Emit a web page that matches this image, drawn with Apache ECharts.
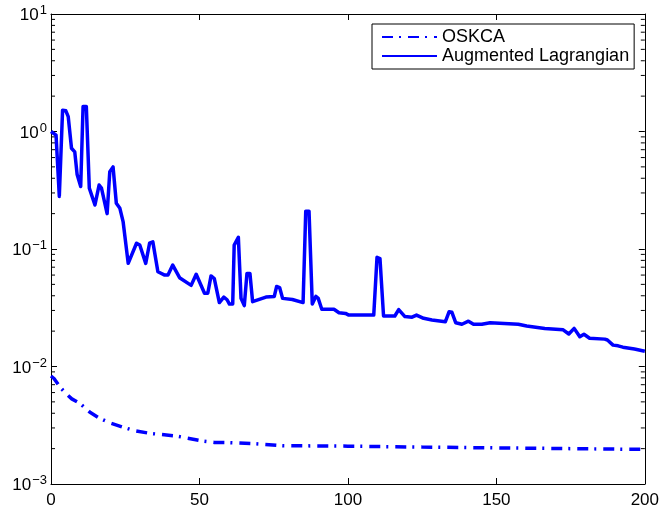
<!DOCTYPE html>
<html>
<head>
<meta charset="utf-8">
<script src="https://cdn.jsdelivr.net/npm/echarts@6/dist/echarts.min.js"></script>
<style>
html,body{margin:0;padding:0;background:#fff;}
#chart{width:662px;height:514px;}
</style>
</head>
<body>
<div id="chart"></div>
<script>
// ---- data ----
const seriesNames = ['OSKCA', 'Augmented Lagrangian'];
const xTicks = [0, 50, 100, 150, 200];
const yDecades = [0.001, 0.01, 0.1, 1, 10];

const oskca = [
  [0,0.0083],[1,0.0079],[3,0.0067],[5,0.0059],[7,0.0053],[9.7,0.00486],[13,0.0041],
  [16.4,0.00362],[20,0.0033],[24.3,0.00304],[28,0.00285],[33.2,0.0027],[42.2,0.00256],
  [51.1,0.00232],[55,0.00226],[60,0.00225],[69,0.0022],[78,0.00212],[88,0.00211],
  [100,0.0021],[125,0.00206],[150,0.00203],[175,0.002],[200,0.00197]
];

const augLag = [
  [0,1.0],[1.7,0.93],[2.8,0.28],[3.9,1.52],[5,1.5],[5.8,1.34],[6.9,0.72],[8,0.67],[8.8,0.43],
  [10,0.34],[10.8,1.63],[11.9,1.63],[12.9,0.33],[14.8,0.237],[16.2,0.35],[17,0.33],[18.9,0.20],
  [19.8,0.455],[20.9,0.50],[22,0.245],[23.2,0.222],[24.3,0.17],[26,0.0755],[28.8,0.112],
  [29.9,0.108],[31.9,0.0755],[33.2,0.112],[34.3,0.115],[36,0.064],[38.3,0.060],[39.4,0.060],
  [41,0.073],[43.3,0.057],[47.2,0.049],[48.9,0.061],[51.7,0.042],[52.8,0.042],[53.9,0.059],
  [55,0.056],[56.7,0.035],[58.2,0.039],[59.3,0.037],[60.1,0.034],[61.2,0.034],[61.7,0.108],
  [63.1,0.126],[64,0.038],[65.1,0.033],[66,0.062],[67,0.062],[67.9,0.0356],[72.4,0.039],
  [75.2,0.0395],[76,0.048],[77,0.047],[78,0.038],[81.3,0.0372],[84.9,0.035],[85.8,0.21],
  [86.9,0.21],[88,0.034],[89.2,0.0395],[90,0.038],[91.2,0.0307],[95.3,0.0307],[97,0.0287],
  [99.2,0.0283],[100.3,0.0274],[108.7,0.0274],[109.8,0.085],[110.8,0.083],[112,0.0269],
  [115.8,0.0269],[117.1,0.0305],[117.7,0.0303],[119.2,0.0266],[121.6,0.0263],[123.1,0.0274],
  [125.5,0.0257],[128.3,0.0249],[132.8,0.024],[134.1,0.0293],[135,0.029],[136.3,0.0236],
  [138.4,0.0229],[140.6,0.0243],[142.3,0.0229],[145.1,0.0229],[147.9,0.0236],[157.4,0.0229],
  [160.2,0.0221],[166.3,0.0211],[172.5,0.0205],[174.4,0.0189],[176.2,0.0211],[178.1,0.0179],
  [179.5,0.0188],[181.4,0.0174],[186.5,0.0171],[187.4,0.0168],[189.3,0.0152],[191,0.015],
  [192.6,0.0146],[196.5,0.0141],[200,0.0135]
];

// minor log ticks (2..9 x 10^k)
const minorTicks = [];
for (let k = -3; k < 1; k++) {
  for (let m = 2; m <= 9; m++) minorTicks.push([0, m * Math.pow(10, k)]);
}

const FONT = '"Liberation Sans", Arial, Helvetica, sans-serif';
const BLUE = '#0000ff';
const xMin = xTicks[0], xMax = xTicks[xTicks.length - 1];
const yMin = yDecades[0], yMax = yDecades[yDecades.length - 1];

const chart = echarts.init(document.getElementById('chart'), null, {renderer: 'canvas'});

const option = {
  backgroundColor: '#fff',
  animation: false,
  grid: {left: 51, right: 15, top: 14, bottom: 30, containLabel: false},
  legend: {
    data: seriesNames,
    orient: 'vertical',
    left: 372,
    top: 24,
    itemWidth: 55,
    itemHeight: 16,
    itemGap: 1,
    padding: [4, 5, 4, 9],
    borderColor: '#000',
    borderWidth: 1,
    backgroundColor: '#fff',
    itemStyle: {opacity: 0},
    textStyle: {fontFamily: FONT, fontSize: 18, color: '#000', lineHeight: 16}
  },
  xAxis: [
    {
      type: 'value', min: xMin, max: xMax, interval: 50,
      axisLine: {show: true, onZero: false, lineStyle: {color: '#000', width: 1}},
      axisTick: {show: true, inside: true, length: 6, lineStyle: {color: '#000'}},
      axisLabel: {show: true, color: '#000', fontFamily: FONT, fontSize: 17, margin: 8},
      splitLine: {show: false}
    },
    {
      type: 'value', position: 'top', min: xMin, max: xMax, interval: 50,
      axisLine: {show: true, onZero: false, lineStyle: {color: '#000', width: 1}},
      axisTick: {show: true, inside: true, length: 6, lineStyle: {color: '#000'}},
      axisLabel: {show: false},
      splitLine: {show: false}
    }
  ],
  yAxis: [
    {
      type: 'log', logBase: 10, min: yMin, max: yMax,
      axisLine: {show: true, onZero: false, lineStyle: {color: '#000', width: 1}},
      axisTick: {show: true, inside: true, length: 6, lineStyle: {color: '#000'}},
      axisLabel: {
        show: true, margin: 4, color: '#000',
        formatter: function (v) {
          const e = Math.round(Math.log10(v));
          const es = e < 0 ? '\u2212' + (-e) : String(e);
          return '{b|10}{s|' + es + '}';
        },
        rich: {
          b: {fontFamily: FONT, fontSize: 17, color: '#000', verticalAlign: 'bottom', lineHeight: 20},
          s: {fontFamily: FONT, fontSize: 13, color: '#000', verticalAlign: 'top', lineHeight: 20, padding: [0, 0, 0, 1]}
        }
      },
      splitLine: {show: false}
    },
    {
      type: 'log', logBase: 10, min: yMin, max: yMax, position: 'right',
      axisLine: {show: true, onZero: false, lineStyle: {color: '#000', width: 1}},
      axisTick: {show: true, inside: true, length: 6, lineStyle: {color: '#000'}},
      axisLabel: {show: false},
      splitLine: {show: false}
    }
  ],
  series: [
    {
      name: seriesNames[0], type: 'line', data: oskca, showSymbol: false, symbol: 'none',
      xAxisIndex: 0, yAxisIndex: 0,
      lineStyle: {color: BLUE, width: 3.5, type: [11, 6, 2, 7], cap: 'butt'},
      itemStyle: {color: BLUE}, z: 3
    },
    {
      name: seriesNames[1], type: 'line', data: augLag, showSymbol: false, symbol: 'none',
      xAxisIndex: 0, yAxisIndex: 0,
      lineStyle: {color: BLUE, width: 3.5, join: 'round'},
      itemStyle: {color: BLUE}, z: 3
    },
    {
      type: 'custom', xAxisIndex: 0, yAxisIndex: 0, silent: true, clip: false,
      data: minorTicks, z: 2,
      renderItem: function (params, api) {
        const v = api.value(1);
        const pl = api.coord([xMin, v]);
        const pr = api.coord([xMax, v]);
        return {
          type: 'group',
          children: [
            {type: 'line', shape: {x1: pl[0], y1: pl[1], x2: pl[0] + 4, y2: pl[1]}, style: {stroke: '#000', lineWidth: 1}},
            {type: 'line', shape: {x1: pr[0], y1: pr[1], x2: pr[0] - 4, y2: pr[1]}, style: {stroke: '#000', lineWidth: 1}}
          ]
        };
      }
    }
  ]
};
chart.setOption(option);
</script>
</body>
</html>
